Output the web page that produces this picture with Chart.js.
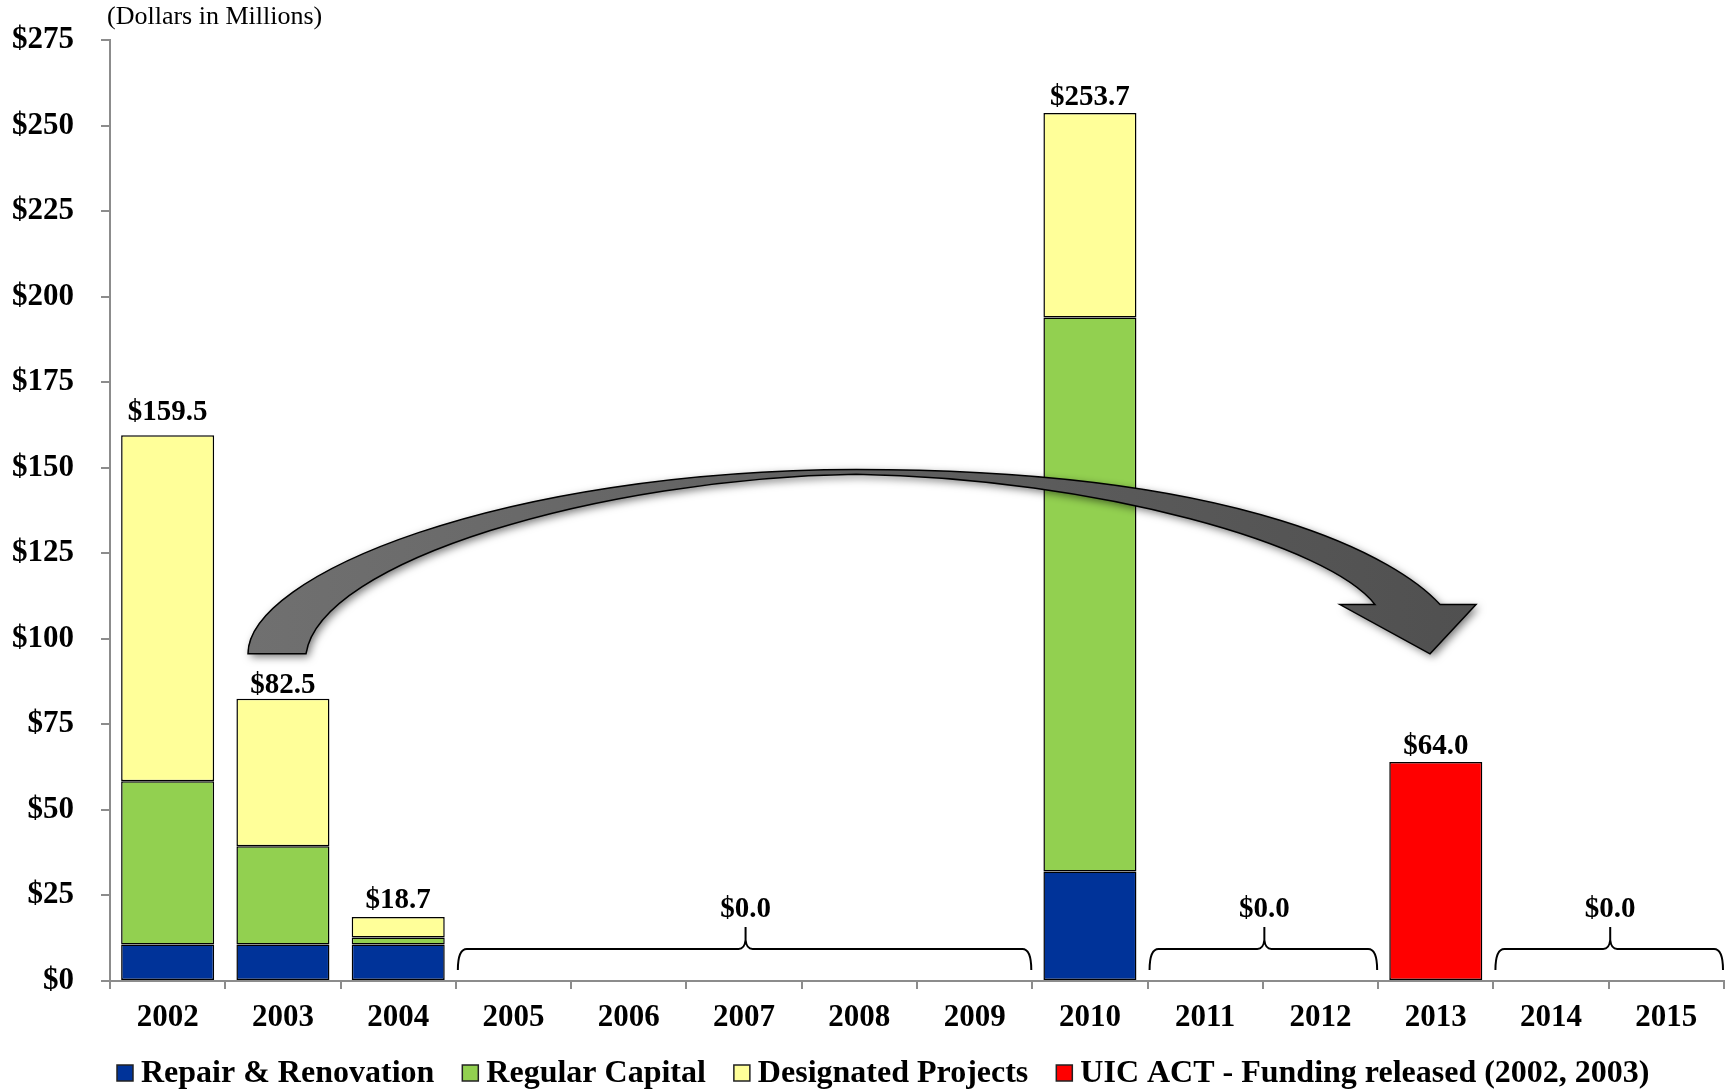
<!DOCTYPE html>
<html>
<head>
<meta charset="utf-8">
<script src="https://cdn.jsdelivr.net/npm/chart.js@4/dist/chart.umd.min.js"></script>
<style>
  html, body { margin: 0; padding: 0; background: #ffffff; }
  #wrap { position: relative; width: 1732px; height: 1090px; }
</style>
</head>
<body>
<div id="wrap"><canvas id="c" width="1732" height="1090"></canvas></div>
<script>
// ---------- DATA ----------
const years = ['2002','2003','2004','2005','2006','2007','2008','2009','2010','2011','2012','2013','2014','2015'];
const repairRenovation   = [10.7, 10.7, 10.7, 0, 0, 0, 0, 0, 32.0, 0, 0, 0, 0, 0];
const regularCapital     = [47.7, 28.7, 2.0, 0, 0, 0, 0, 0, 161.9, 0, 0, 0, 0, 0];
const designatedProjects = [101.1, 43.1, 6.0, 0, 0, 0, 0, 0, 59.8, 0, 0, 0, 0, 0];
const uicActReleased     = [0, 0, 0, 0, 0, 0, 0, 0, 0, 0, 0, 64.0, 0, 0];
const seriesNames = ['Repair & Renovation', 'Regular Capital', 'Designated Projects', 'UIC ACT - Funding released (2002, 2003)'];
const yTickValues = [0, 25, 50, 75, 100, 125, 150, 175, 200, 225, 250, 275];
const zeroGroups = [[3, 7], [9, 10], [12, 13]];   // year index ranges with no funding
const unitsNote = '(Dollars in Millions)';

// ---------- STYLE ----------
const FONT = "'Liberation Serif', 'Times New Roman', serif";
const colors = ['#003399', '#92D050', '#FFFF99', '#FF0000'];
const AXIS = '#8c8c8c';
const labelLift = { 0: 15, 1: 6, 2: 9 };   // px gap between total label baseline and bar top
const defaultLift = 8;

const seriesData = [repairRenovation, regularCapital, designatedProjects, uicActReleased];
const totals = years.map((_, i) => seriesData.reduce((s, arr) => s + arr[i], 0));

// curved arrow defined in (category index, value) space
const arrowShape = {
  outer: [[0.697, 95.6], [0.697, 118.5], [2.883, 149.2], [5.971, 149.5], [9.388, 149.5], [10.69, 122.9], [11.037, 110.0]],
  head: [[11.349, 110.0], [10.95, 95.6], [10.169, 110.0], [10.473, 110.0]],
  inner: [[10.082, 127.3], [8.087, 146.9], [5.971, 148.1], [3.75, 146.9], [1.322, 122.9], [1.2, 95.6]]
};

const overlayPlugin = {
  id: 'overlay',
  afterDatasetsDraw(chart) {
    const ctx = chart.ctx;
    const xs = chart.scales.x, ys = chart.scales.y;
    const catW = xs.getPixelForValue(1) - xs.getPixelForValue(0);
    const P = (p) => [xs.getPixelForValue(0) + p[0] * catW, ys.getPixelForValue(p[1])];

    // ---- curved arrow ----
    ctx.save();
    const o = arrowShape.outer.map(P), h = arrowShape.head.map(P), n = arrowShape.inner.map(P);
    ctx.beginPath();
    ctx.moveTo(o[0][0], o[0][1]);
    ctx.bezierCurveTo(o[1][0], o[1][1], o[2][0], o[2][1], o[3][0], o[3][1]);
    ctx.bezierCurveTo(o[4][0], o[4][1], o[5][0], o[5][1], o[6][0], o[6][1]);
    h.forEach(p => ctx.lineTo(p[0], p[1]));
    ctx.bezierCurveTo(n[0][0], n[0][1], n[1][0], n[1][1], n[2][0], n[2][1]);
    ctx.bezierCurveTo(n[3][0], n[3][1], n[4][0], n[4][1], n[5][0], n[5][1]);
    ctx.closePath();
    const g = ctx.createLinearGradient(o[0][0], 0, h[0][0], 0);
    g.addColorStop(0, '#707070');
    g.addColorStop(1, '#505050');
    ctx.fillStyle = g;
    ctx.shadowColor = 'rgba(0,0,0,0.55)';
    ctx.shadowBlur = 9;
    ctx.shadowOffsetX = 3;
    ctx.shadowOffsetY = 3;
    ctx.fill();
    ctx.shadowColor = 'transparent';
    ctx.lineWidth = 1.5;
    ctx.strokeStyle = '#000';
    ctx.lineJoin = 'miter';
    ctx.stroke();
    ctx.restore();

    // ---- total labels ----
    ctx.save();
    ctx.font = 'bold 29px ' + FONT;
    ctx.fillStyle = '#000';
    ctx.textAlign = 'center';
    ctx.textBaseline = 'alphabetic';
    totals.forEach((t, i) => {
      if (t > 0) {
        const lift = (i in labelLift) ? labelLift[i] : defaultLift;
        ctx.fillText('$' + t.toFixed(1), xs.getPixelForValue(i), ys.getPixelForValue(t) - lift);
      }
    });

    // ---- braces for zero years ----
    const y0 = ys.getPixelForValue(0);
    const yLine = y0 - 32, yEnd = y0 - 11, yTip = y0 - 54;
    zeroGroups.forEach(([a, b]) => {
      const x0 = xs.getPixelForValue(a) - catW / 2 + 2;
      const x1 = xs.getPixelForValue(b) + catW / 2 - 1;
      const xm = (x0 + x1) / 2 + 1;
      const r = 9;
      ctx.beginPath();
      ctx.moveTo(x0, yEnd);
      ctx.quadraticCurveTo(x0, yLine, x0 + r, yLine);
      ctx.lineTo(xm - 7, yLine);
      ctx.quadraticCurveTo(xm - 1, yLine, xm, yLine - 9);
      ctx.lineTo(xm, yTip);
      ctx.moveTo(xm, yLine - 9);
      ctx.quadraticCurveTo(xm + 1, yLine, xm + 7, yLine);
      ctx.lineTo(x1 - r, yLine);
      ctx.quadraticCurveTo(x1, yLine, x1, yEnd);
      ctx.lineWidth = 2;
      ctx.strokeStyle = '#000';
      ctx.stroke();
      let s = 0;
      for (let k = a; k <= b; k++) s += totals[k];
      ctx.fillText('$' + s.toFixed(1), xm, yTip - 10);
    });
    ctx.restore();
  },
  afterDraw(chart) {
    const ctx = chart.ctx;
    const ca = chart.chartArea;
    ctx.save();
    // units note
    ctx.font = '26px ' + FONT;
    ctx.fillStyle = '#000';
    ctx.textAlign = 'left';
    ctx.textBaseline = 'middle';
    ctx.fillText(unitsNote, ca.left - 3, 17);

    // legend
    ctx.font = 'bold 32px ' + FONT;
    let x = ca.left + 7;
    const yc = 1073;
    chart.data.datasets.forEach(ds => {
      ctx.fillStyle = ds.backgroundColor;
      ctx.fillRect(x, yc - 8, 16, 16);
      ctx.lineWidth = 1.5;
      ctx.strokeStyle = '#222';
      ctx.strokeRect(x, yc - 8, 16, 16);
      ctx.fillStyle = '#000';
      ctx.fillText(ds.label, x + 24, yc + 1);
      x += 24 + ctx.measureText(ds.label).width + 28;
    });
    ctx.restore();
  }
};

const datasets = seriesData.map((arr, k) => ({
  label: seriesNames[k],
  data: arr,
  backgroundColor: colors[k],
  borderColor: '#000',
  borderWidth: (c) => (c.raw ? 1.5 : 0),
  borderSkipped: false,
  barPercentage: 0.807,
  categoryPercentage: 1.0,
  stack: 'total'
}));

new Chart(document.getElementById('c'), {
  type: 'bar',
  data: { labels: years, datasets },
  options: {
    responsive: false,
    animation: false,
    layout: { padding: { left: 0, right: 8, top: 40, bottom: 56 } },
    plugins: {
      legend: { display: false },
      tooltip: { enabled: false },
      title: { display: false }
    },
    scales: {
      x: {
        stacked: true,
        offset: true,
        afterFit: (s) => { s.height = 53; s.paddingLeft = 0; s.paddingRight = 0; },
        grid: { offset: true, drawOnChartArea: false, drawTicks: true, tickLength: 8, color: AXIS, lineWidth: 2 },
        border: { display: true, color: AXIS, width: 2 },
        ticks: { color: '#000', padding: 10, font: { family: FONT, size: 31, weight: 'bold' }, maxRotation: 0, autoSkip: false }
      },
      y: {
        stacked: true,
        min: 0,
        max: 275,
        afterFit: (s) => { s.width = 110; s.paddingTop = 0; s.paddingBottom = 0; },
        afterBuildTicks: (s) => { s.ticks = yTickValues.map(v => ({ value: v })); },
        grid: { drawOnChartArea: false, drawTicks: true, tickLength: 9, color: AXIS, lineWidth: 2 },
        border: { display: true, color: AXIS, width: 2 },
        ticks: { color: '#000', padding: 27, font: { family: FONT, size: 31, weight: 'bold' }, callback: (v) => '$' + v }
      }
    }
  },
  plugins: [overlayPlugin]
});
</script>
</body>
</html>
